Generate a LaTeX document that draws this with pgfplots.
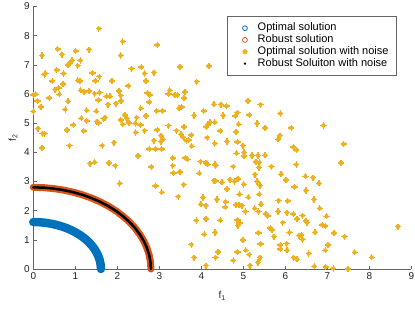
\documentclass[border=0pt]{standalone}
\usepackage{fontspec}
\setmainfont{Liberation Sans}
\usepackage{pgfplots}
\usepackage{pgfplotstable}
\pgfplotsset{compat=1.18}
\definecolor{mblue}{rgb}{0,0.447,0.741}
\definecolor{morange}{rgb}{0.85,0.325,0.098}
\definecolor{myellow}{rgb}{0.929,0.694,0.125}
\pgfplotstableread{
x y
1.56 8.24
2.13 7.80
0.21 7.32
0.58 7.54
0.68 7.35
1.01 7.47
1.33 7.52
2.08 7.32
0.92 7.15
0.87 7.06
0.83 6.99
1.12 7.15
1.06 6.97
0.56 6.82
0.29 6.70
0.26 6.67
0.72 6.70
1.41 6.72
1.57 6.59
0.45 6.44
1.06 6.47
1.11 6.44
1.48 6.45
1.87 6.45
0.71 6.34
0.60 6.21
0.52 6.15
1.13 6.13
1.21 6.07
1.33 6.10
1.46 6.01
1.58 6.05
2.04 6.10
0.06 5.99
0.00 5.97
0.62 5.99
1.74 5.92
1.83 5.92
2.08 5.94
0.10 5.76
0.38 5.86
0.83 5.75
0.18 5.56
0.00 5.40
0.76 5.47
1.55 5.79
1.78 5.63
1.97 5.67
2.09 5.76
1.27 5.44
1.50 5.41
2.18 5.28
1.14 5.17
1.27 5.08
1.52 5.05
1.55 5.01
1.67 5.15
1.71 5.19
2.08 5.11
2.13 4.96
0.95 4.94
0.11 4.81
0.80 4.76
1.20 4.73
0.22 4.64
0.27 4.64
0.86 4.23
0.21 4.15
1.64 4.23
1.92 4.33
1.35 3.61
1.46 3.66
1.80 3.63
1.95 3.54
2.06 2.93
2.95 7.68
2.34 6.87
2.57 6.92
2.65 6.70
2.87 6.73
3.49 6.93
4.18 6.96
2.26 6.28
2.68 6.44
3.89 6.42
2.72 6.03
2.77 5.96
3.25 6.13
3.22 6.00
3.37 5.96
3.43 5.96
3.61 6.07
2.76 5.72
3.59 5.86
4.30 5.65
2.56 5.51
2.94 5.42
3.08 5.42
3.47 5.51
3.53 5.55
3.83 5.26
4.06 5.42
2.23 5.15
2.28 5.01
2.46 5.19
2.68 5.25
2.43 4.99
2.55 4.94
2.65 4.74
2.95 4.77
3.22 4.91
3.41 4.74
3.59 4.87
4.12 4.87
4.16 4.96
4.21 5.02
4.32 5.03
2.44 4.68
3.04 4.57
3.09 4.45
3.04 4.37
2.87 4.40
3.52 4.62
3.57 4.50
3.76 4.59
3.64 4.40
3.70 4.42
4.14 4.50
4.32 4.30
3.77 4.21
2.76 4.11
2.91 4.11
3.06 4.11
2.49 3.88
3.32 3.80
3.62 3.81
3.67 3.76
3.98 3.68
3.32 3.54
4.11 3.64
4.15 3.59
4.33 3.59
4.34 3.54
2.81 3.50
3.34 3.29
3.49 3.32
3.95 3.28
4.30 3.03
4.34 3.02
3.58 2.89
2.91 2.85
3.06 2.63
3.45 2.48
4.04 2.45
3.99 2.22
4.11 2.17
4.37 2.38
3.88 1.66
4.11 1.72
4.07 1.19
4.33 1.25
3.76 0.83
3.83 0.39
4.11 0.11
4.34 0.39
4.40 0.58
5.11 5.76
5.41 5.63
4.47 5.63
4.60 5.59
4.52 5.26
4.81 5.25
4.86 5.36
5.14 5.28
5.88 5.33
4.89 4.96
5.33 4.99
5.52 4.84
6.14 4.84
4.45 4.73
4.83 4.70
5.83 4.45
5.87 4.57
4.61 4.37
4.86 4.35
4.99 4.23
6.19 4.18
6.26 4.08
4.84 3.97
5.02 4.00
5.02 3.87
5.21 3.89
5.35 3.89
5.52 3.90
5.30 3.67
5.38 3.65
4.76 3.51
5.37 3.48
5.67 3.51
6.26 3.58
5.28 3.23
5.90 3.25
6.02 3.05
6.48 3.18
4.68 3.06
4.79 3.00
4.87 3.09
5.01 2.90
5.33 3.00
5.40 2.86
6.22 2.81
4.49 2.97
4.61 2.74
5.38 2.56
6.49 2.69
4.91 2.56
5.12 2.46
4.58 2.30
4.57 2.12
4.83 2.20
4.90 2.19
4.97 2.17
5.42 2.22
5.84 2.34
6.06 2.33
5.27 2.08
5.36 1.97
5.05 1.97
5.83 1.97
6.04 1.93
5.54 1.89
5.58 1.82
6.19 1.88
6.28 1.72
6.41 1.83
6.49 1.65
6.52 1.59
4.45 1.67
4.86 1.68
4.91 1.58
4.87 1.49
5.94 1.59
5.64 1.40
5.68 1.34
5.36 1.24
6.10 1.25
6.33 1.14
6.38 1.17
6.41 1.01
5.73 1.11
4.99 0.99
5.41 0.86
5.88 0.82
5.88 0.68
6.03 0.87
6.04 0.64
4.86 0.58
5.06 0.64
5.14 0.49
6.56 0.53
5.40 0.39
5.35 0.22
4.76 0.29
5.16 0.11
6.20 0.39
6.28 0.33
6.91 4.92
7.39 4.28
7.33 3.64
6.66 3.13
6.80 2.94
6.68 2.38
6.82 2.08
6.98 1.81
6.88 1.51
6.95 1.47
6.71 1.26
7.16 1.23
7.41 1.11
8.68 1.45
7.02 0.82
6.95 0.64
7.65 0.57
8.06 0.40
6.69 0.09
6.96 0.07
7.14 0.02
7.49 0.00
}\noisedata
\pgfplotstableread{
x y
1.61 0
1.6039 0.1404
1.5855 0.2795
1.5551 0.4167
1.5129 0.5506
1.4591 0.6804
1.3943 0.805
1.3189 0.9235
1.2333 1.0349
1.1384 1.1384
1.0349 1.2333
0.9235 1.3189
0.805 1.3943
0.6804 1.4591
0.5506 1.5129
0.4167 1.5551
0.2795 1.5855
0.1404 1.6039
0 1.61
}\optdata
\pgfplotstableread{
x y
2.8 0
2.7894 0.2442
2.7574 0.4861
2.7045 0.7246
2.6312 0.9576
2.5376 1.1833
2.4248 1.4
2.2938 1.6061
2.1448 1.7998
1.9799 1.9799
1.7998 2.1448
1.6061 2.2938
1.4 2.4248
1.1833 2.5376
0.9576 2.6312
0.7246 2.7045
0.4861 2.7574
0.2442 2.7894
0 2.8
}\robdata
\begin{document}
\begin{tikzpicture}
\useasboundingbox (-33.3pt,-39pt) rectangle (381.7pt,269pt);
\begin{axis}[
  at={(0pt,0pt)}, anchor=south west,
  scale only axis, width=378pt, height=262.5pt,
  xmin=0, xmax=9, ymin=0, ymax=9,
  xtick={0,1,...,9}, ytick={0,1,...,9},
  axis x line=bottom, axis y line=left,
  axis line style={-, draw=black!60, line width=0.6pt},
  tick style={draw=black!60, line width=0.6pt},
  tick align=inside, major tick length=3.5pt,
  clip=false,
  /pgf/number format/assume math mode=true,
  tick label style={font=\fontsize{10}{12}\selectfont, text=black!85},
  xlabel={f\textsubscript{1}}, ylabel={f\textsubscript{2}},
  xlabel style={yshift=-5pt},
  label style={font=\fontsize{10}{12}\selectfont, text=black!85},
  legend cell align=left,
  legend style={at={(axis description cs:1,1)}, anchor=north east,
    xshift=-15pt, yshift=-9.5pt, draw=black!60, line width=0.5pt,
    font=\fontsize{11}{11.7}\selectfont, inner xsep=4pt, inner ysep=6pt,
    row sep=0pt,
    nodes={inner ysep=0.5pt, inner xsep=3.5pt, text height=8.2pt, text depth=2.6pt}},
]
\addlegendimage{legend image code/.code={\path (0pt,0pt) (22pt,0pt); \draw[mblue, line width=0.8pt] (13pt,0pt) circle (2.4pt);}}
\addlegendentry{Optimal solution}
\addlegendimage{legend image code/.code={\path (0pt,0pt) (22pt,0pt); \draw[morange, line width=0.8pt] (13pt,0pt) circle (2.4pt);}}
\addlegendentry{Robust solution}
\addlegendimage{legend image code/.code={\path (0pt,0pt) (22pt,0pt); \draw[myellow, line width=1.1pt] (13pt,0pt) +(-2.6pt,0pt) -- +(2.6pt,0pt) +(0pt,-2.6pt) -- +(0pt,2.6pt) +(-1.85pt,-1.85pt) -- +(1.85pt,1.85pt) +(-1.85pt,1.85pt) -- +(1.85pt,-1.85pt);}}
\addlegendentry{Optimal solution with noise}
\addlegendimage{legend image code/.code={\path (0pt,0pt) (22pt,0pt); \fill[black] (13pt,0pt) circle (0.9pt);}}
\addlegendentry{Robust Soluiton with noise}
\addplot[forget plot, mblue, line width=8.5pt, line cap=round] table[x=x,y=y] {\optdata};
\addplot[forget plot, morange, line width=7pt, line cap=round] table[x=x,y=y] {\robdata};
\addplot[forget plot, only marks, mark=+, myellow, mark size=3.1pt, line width=1.35pt] table[x=x,y=y] {\noisedata};
\addplot[forget plot, only marks, mark=x, myellow, mark size=2.2pt, line width=1.35pt] table[x=x,y=y] {\noisedata};
\addplot[forget plot, black, line width=2.5pt, line cap=round] table[x=x,y=y] {\robdata};
\end{axis}
\end{tikzpicture}
\end{document}
